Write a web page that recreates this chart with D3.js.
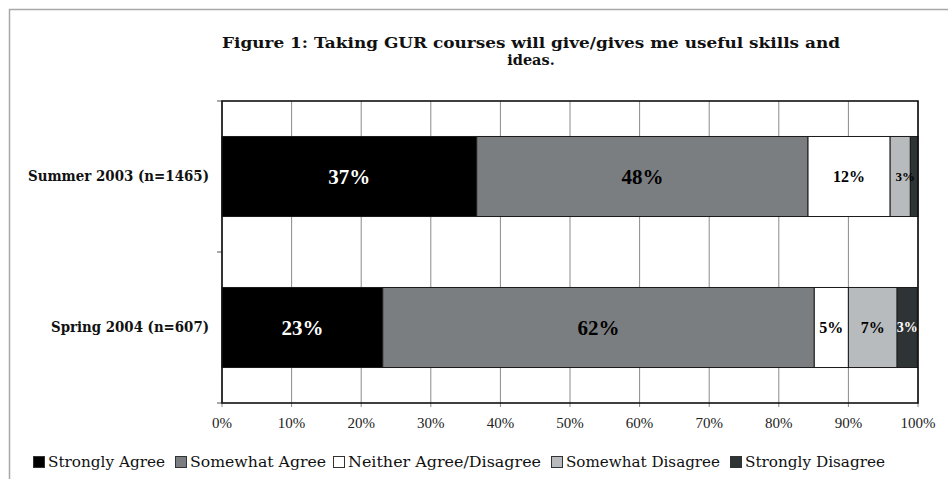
<!DOCTYPE html>
<html><head><meta charset="utf-8">
<script src="https://cdn.jsdelivr.net/npm/d3@7"></script>
<style>
html,body{margin:0;padding:0;background:#fff;}
svg{display:block;}
text{font-family:"Liberation Serif","Times New Roman",serif;}
.ds{font-family:"DejaVu Serif",serif;}
</style></head>
<body>
<svg id="chart" width="948" height="479"></svg>
<script>
// ---- data ----
const categories = ["Summer 2003 (n=1465)", "Spring 2004 (n=607)"];
const seriesNames = ["Strongly Agree", "Somewhat Agree", "Neither Agree/Disagree", "Somewhat Disagree", "Strongly Disagree"];
const stronglyAgree     = [36.6, 23.1];
const somewhatAgree     = [47.6, 62.0];
const neither           = [11.8, 4.9];
const somewhatDisagree  = [2.9, 7.0];
const stronglyDisagree  = [1.1, 2.9];
const barLabels = [
  ["37%", "48%", "12%", "3%", ""],
  ["23%", "62%", "5%", "7%", "3%"]
];
const xTicks = [0, 10, 20, 30, 40, 50, 60, 70, 80, 90, 100];
const titleLines = ["Figure 1: Taking GUR courses will give/gives me useful skills and", "ideas."];

// ---- styles / layout ----
const colors = ["#000000", "#7b7e80", "#ffffff", "#b8bbbd", "#2e3335"];
const labelColors = ["#ffffff", "#000000", "#000000", "#000000", "#ffffff"];
const labelSizes = [[21, 21, 16, 13, 13], [21, 21, 16, 16, 14]];
const catLabelWidths = [181, 158];
const legX = [33, 175, 333, 551, 730];
const legTextW = [117, 136, 193, 154, 140];

const svg = d3.select("#chart");

// outer frame
svg.append("path").attr("d", "M9.5,479 V9.5 H948").attr("fill", "none")
  .attr("stroke", "#a8a8a8").attr("stroke-width", 1.5);

const x = d3.scaleLinear().domain([0, 100]).range([222, 918]);
const y = d3.scaleBand().domain(categories).range([101, 403]).paddingInner(0.47).paddingOuter(0.235);

// gridlines
svg.append("g").selectAll("line").data(xTicks).join("line")
  .attr("x1", d => x(d)).attr("x2", d => x(d))
  .attr("y1", 101).attr("y2", 407)
  .attr("stroke", "#8a8a8a").attr("stroke-width", 1);

// y ticks at category boundaries
const yBounds = [y.range()[0], y.range()[0] + y.step(), y.range()[1]];
svg.append("g").selectAll("line").data(yBounds).join("line")
  .attr("x1", 217).attr("x2", 222).attr("y1", d => d).attr("y2", d => d)
  .attr("stroke", "#555").attr("stroke-width", 1);

// stacked data
const rows = categories.map((c, i) => ({
  cat: c,
  vals: [stronglyAgree[i], somewhatAgree[i], neither[i], somewhatDisagree[i], stronglyDisagree[i]]
}));
const segs = [];
rows.forEach((r, i) => {
  let acc = 0;
  r.vals.forEach((v, k) => {
    segs.push({cat: r.cat, k, x0: acc, x1: acc + v, label: barLabels[i][k], size: labelSizes[i][k]});
    acc += v;
  });
});

svg.append("g").selectAll("rect").data(segs).join("rect")
  .attr("x", d => x(d.x0)).attr("width", d => x(d.x1) - x(d.x0))
  .attr("y", d => y(d.cat)).attr("height", y.bandwidth())
  .attr("fill", d => colors[d.k]).attr("stroke", "#1a1a1a").attr("stroke-width", 1);

// plot border
svg.append("rect").attr("x", 222).attr("y", 101).attr("width", 696).attr("height", 302)
  .attr("fill", "none").attr("stroke", "#111").attr("stroke-width", 1.6);

// bar labels
svg.append("g").selectAll("text").data(segs.filter(d => d.label)).join("text")
  .attr("x", d => x((d.x0 + d.x1) / 2) + (d.k === 3 && d.x1 - d.x0 < 4 ? 5 : 0))
  .attr("y", d => y(d.cat) + y.bandwidth() / 2)
  .attr("dy", "0.35em").attr("text-anchor", "middle")
  .attr("font-weight", "bold").attr("font-size", d => d.size)
  .attr("fill", d => labelColors[d.k])
  .text(d => d.label);

// x tick labels
svg.append("g").selectAll("text").data(xTicks).join("text")
  .attr("x", d => x(d)).attr("y", 428).attr("text-anchor", "middle")
  .attr("font-size", 15).attr("fill", "#222")
  .text(d => d + "%");

// category labels
svg.append("g").selectAll("text").data(categories).join("text")
  .attr("class", "ds")
  .attr("x", 209).attr("y", d => y(d) + y.bandwidth() / 2).attr("dy", "0.35em")
  .attr("text-anchor", "end").attr("font-weight", "bold").attr("font-size", 14)
  .attr("textLength", (d, i) => catLabelWidths[i]).attr("lengthAdjust", "spacingAndGlyphs")
  .attr("fill", "#111")
  .text(d => d);

// title
const tt = svg.append("g").selectAll("text").data(titleLines).join("text")
  .attr("class", "ds")
  .attr("x", 531).attr("y", (d, i) => 48 + i * 16.5).attr("text-anchor", "middle")
  .attr("font-weight", "bold").attr("font-size", 14.5).attr("fill", "#111")
  .text(d => d);
tt.filter((d, i) => i === 0).attr("textLength", 618).attr("lengthAdjust", "spacingAndGlyphs");

// legend
const leg = svg.append("g").selectAll("g").data(seriesNames).join("g")
  .attr("transform", (d, i) => `translate(${legX[i]},0)`);
leg.append("rect").attr("x", 0.5).attr("y", 456.5).attr("width", 11).attr("height", 11)
  .attr("fill", (d, i) => colors[i]).attr("stroke", "#333").attr("stroke-width", 1);
leg.append("text").attr("class", "ds").attr("x", 15).attr("y", 467).attr("font-size", 14.5).attr("fill", "#111")
  .attr("textLength", (d, i) => legTextW[i]).attr("lengthAdjust", "spacingAndGlyphs")
  .text(d => d);
</script>
</body></html>
